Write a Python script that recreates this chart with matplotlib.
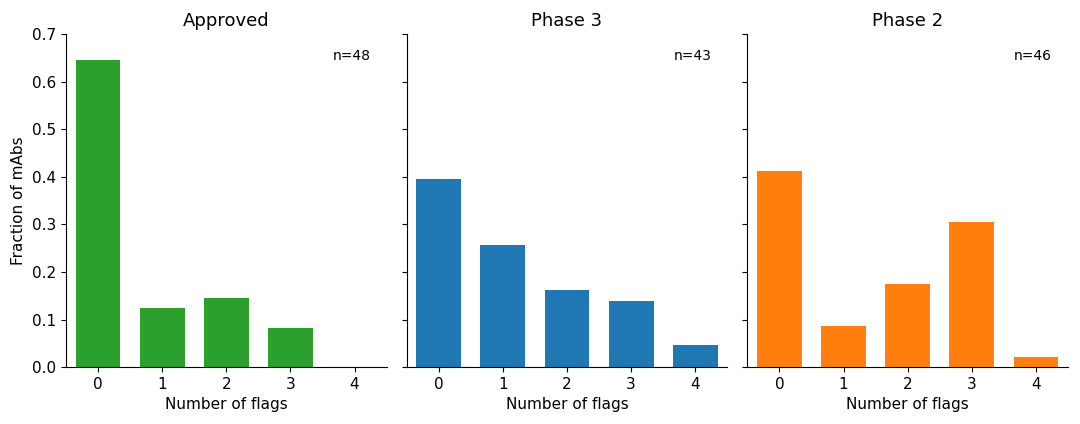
import matplotlib.pyplot as plt
import numpy as np

# Data
groups = ['Approved', 'Phase 3', 'Phase 2']
n_counts = [48, 43, 46]
flags = [0, 1, 2, 3, 4]
fractions = [
    [0.646, 0.125, 0.146, 0.083, 0.0],
    [0.395, 0.256, 0.163, 0.140, 0.047],
    [0.413, 0.087, 0.174, 0.304, 0.022],
]
colors = ['#2ca02c', '#1f77b4', '#ff7f0e']

fig, axes = plt.subplots(1, 3, figsize=(10.8, 4.24), dpi=100, sharey=True)
fig.subplots_adjust(left=0.061, right=0.989, top=0.92, bottom=0.134, wspace=0.0625)

for ax, name, n, vals, c in zip(axes, groups, n_counts, fractions, colors):
    ax.bar(flags, vals, width=0.7, color=c)
    ax.set_title(name, fontsize=13)
    ax.set_xlabel('Number of flags', fontsize=11)
    ax.set_xticks(flags)
    ax.set_xlim(-0.5, 4.5)
    ax.text(0.95, 0.955, f'n={n}', transform=ax.transAxes, ha='right', va='top', fontsize=10)
    ax.spines['top'].set_visible(False)
    ax.spines['right'].set_visible(False)
    ax.tick_params(labelsize=11)

axes[0].set_ylim(0, 0.7)
axes[0].set_ylabel('Fraction of mAbs', fontsize=11)

plt.savefig('out.png')
